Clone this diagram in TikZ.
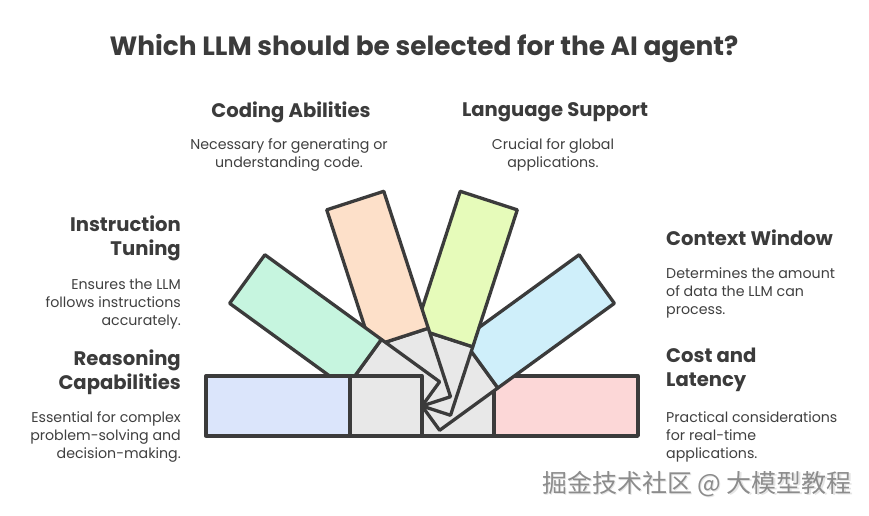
\documentclass[tikz,border=0pt]{standalone}
\usepackage{fontspec}
\setmainfont{Poppins}
\newfontfamily\cjk{Noto Sans CJK SC}
\definecolor{ink}{HTML}{3B3B3B}
\definecolor{inktext}{HTML}{404040}
\definecolor{grayfill}{HTML}{E8E8E8}
\definecolor{cblue}{HTML}{DBE5FB}
\definecolor{cgreen}{HTML}{C6F5DF}
\definecolor{corange}{HTML}{FDE0C9}
\definecolor{cyellow}{HTML}{E6FBBA}
\definecolor{clight}{HTML}{CFEFFA}
\definecolor{cpink}{HTML}{FCD7D7}
\definecolor{wmark}{HTML}{8C8C8C}
\newcommand\fanbar[2]{%
  \begin{scope}[shift={(422,406)},rotate=#1]
    \draw[barline,fill=grayfill] (0,-30) rectangle (72,30);
    \draw[barline,fill=#2] (72,-30) rectangle (216,30);
  \end{scope}}
\begin{document}
\begin{tikzpicture}[x=1pt,y=-1pt,
  barline/.style={draw=ink,line width=3.3pt,line join=round},
  head/.style={font=\fontsize{19.6}{24}\selectfont\bfseries,text=ink,inner sep=0pt},
  body/.style={font=\fontsize{14.2}{18}\selectfont,text=inktext,inner sep=0pt},
  titlestyle/.style={font=\fontsize{26.4}{30}\selectfont\bfseries,text=ink,inner sep=0pt}]
\useasboundingbox (0,0) rectangle (869,515);
\fill[white] (0,0) rectangle (869,515);

% fan of bars, drawn right to left
\fanbar{0}{cpink}
\fanbar{36}{clight}
\fanbar{72}{cyellow}
\fanbar{108}{corange}
\fanbar{144}{cgreen}
\fanbar{180}{cblue}

\node[titlestyle,anchor=north] (title) at (424,34) {Which LLM should be selected for the AI agent?};

\node[head,anchor=north] (codh) at (291,102) {Coding Abilities};
\node[body,anchor=north,align=center] (codb) at (289,138) {Necessary for generating or\\understanding code.};

\node[head,anchor=north] (lanh) at (555,102) {Language Support};
\node[body,anchor=north,align=center] (lanb) at (553,138) {Crucial for global\\applications.};

\node[head,anchor=north east,align=right] (insh) at (181,216) {Instruction\\Tuning};
\node[body,anchor=north east,align=right] (insb) at (181,279) {Ensures the LLM\\follows instructions\\accurately.};

\node[head,anchor=north east,align=right] (reah) at (181,350) {Reasoning\\Capabilities};
\node[body,anchor=north east,align=right] (reab) at (181,411) {Essential for complex\\problem-solving and\\decision-making.};

\node[head,anchor=north west,align=left] (conh) at (666,230) {Context Window};
\node[body,anchor=north west,align=left] (conb) at (666,267) {Determines the amount\\of data the LLM can\\process.};

\node[head,anchor=north west,align=left] (cosh) at (666,348) {Cost and\\Latency};
\node[body,anchor=north west,align=left] (cosb) at (666,411) {Practical considerations\\for real-time\\applications.};

\node[font=\cjk\fontsize{25}{28}\selectfont,text=white!80!gray,inner sep=0pt] at (698.2,485.2) {掘金技术社区 @ 大模型教程};
\node[font=\cjk\fontsize{25}{28}\selectfont,text=wmark,inner sep=0pt] (wm) at (697,484) {掘金技术社区 @ 大模型教程};
\end{tikzpicture}
\end{document}
